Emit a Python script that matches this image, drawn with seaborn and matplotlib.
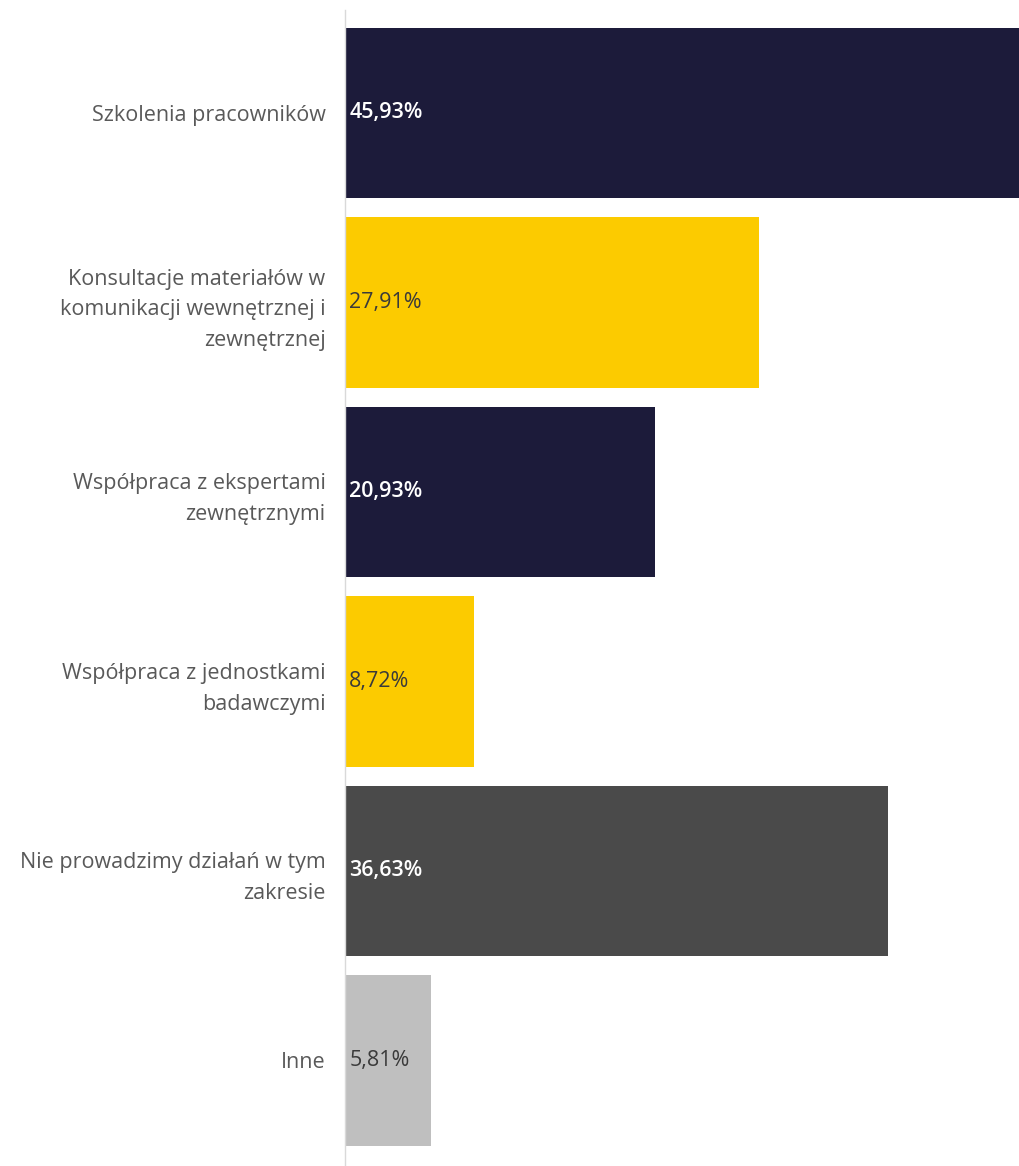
import matplotlib
matplotlib.use("Agg")
import matplotlib.pyplot as plt
import seaborn as sns
import pandas as pd

categories = [
    "Szkolenia pracowników",
    "Konsultacje materiałów w\nkomunikacji wewnętrznej i\nzewnętrznej",
    "Współpraca z ekspertami\nzewnętrznymi",
    "Współpraca z jednostkami\nbadawczymi",
    "Nie prowadzimy działań w tym\nzakresie",
    "Inne",
]
values = [45.93, 27.91, 20.93, 8.72, 36.63, 5.81]
value_labels = ["45,93%", "27,91%", "20,93%", "8,72%", "36,63%", "5,81%"]
bar_colors = ["#1c1b3a", "#fccb00", "#1c1b3a", "#fccb00", "#4a4a4a", "#bfbfbf"]
text_colors = ["white", "#3a3a3a", "white", "#3a3a3a", "white", "#3a3a3a"]

sns.set_theme(style="white")
plt.rcParams["font.family"] = ["Open Sans", "DejaVu Sans"]

df = pd.DataFrame({"category": categories, "value": values})

fig = plt.figure(figsize=(10.19, 11.66), dpi=100)
ax = fig.add_axes([345 / 1019, 0.0, 1 - 345 / 1019, 1 - 10 / 1166])

sns.barplot(data=df, x="value", y="category", hue="category",
            palette=bar_colors, width=0.9, saturation=1, legend=False,
            linewidth=0, ax=ax)

ax.set_xlim(0, 45.45)
ax.set_ylim(5.557, -0.5435)

for i, (v, lab, tc) in enumerate(zip(values, value_labels, text_colors)):
    ax.annotate(lab, xy=(0, i), xytext=(3, 0), textcoords="offset points",
                va="center", ha="left", fontsize=15.5, color=tc,
                fontweight="semibold" if tc == "white" else "normal")

ax.set_xlabel("")
ax.set_ylabel("")
ax.set_xticks([])
ax.tick_params(axis="y", length=0, pad=14, labelsize=15.5, labelcolor="#595959")
for lbl in ax.get_yticklabels():
    lbl.set_horizontalalignment("right")
    lbl.set_multialignment("right")
    lbl.set_linespacing(1.6)

for s in ["top", "right", "bottom"]:
    ax.spines[s].set_visible(False)
ax.spines["left"].set_color("#d9d9d9")
ax.spines["left"].set_linewidth(1)

fig.savefig("out.png", dpi=100)
